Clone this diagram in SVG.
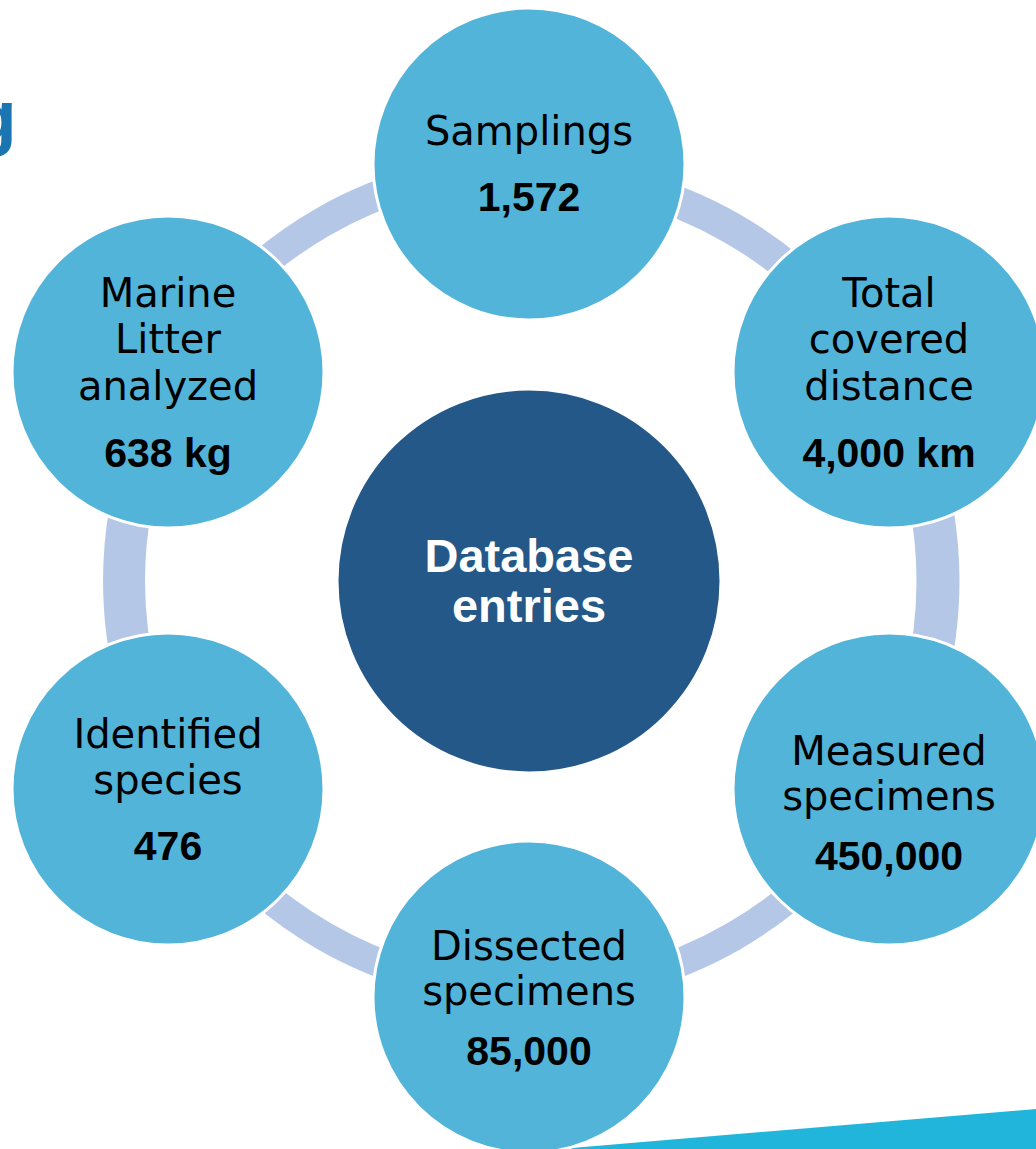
<svg xmlns="http://www.w3.org/2000/svg" width="1036" height="1149" viewBox="0 0 1036 1149">
  <style>
    .band { fill: none; stroke: #B4C7E7; }
    .outer { fill: #53B4D9; stroke: #FFFFFF; stroke-width: 3; }
    .core { fill: #245888; stroke: #FFFFFF; stroke-width: 3; }
    .lbl { font-family: "DejaVu Sans", sans-serif; font-size: 40px; fill: #000000; text-anchor: middle; }
    .val { font-family: "Liberation Sans", Arial, sans-serif; font-weight: bold; font-size: 41px; fill: #000000; text-anchor: middle; }
    .ctr { font-family: "Liberation Sans", Arial, sans-serif; font-weight: bold; font-size: 47px; fill: #FFFFFF; text-anchor: middle; }
  </style>
  <rect x="0" y="0" width="1036" height="1149" fill="#FFFFFF"/>
  <text x="-29" y="142" font-family="Liberation Sans, Arial, sans-serif" font-weight="bold" font-size="75" fill="#1B75B0">g</text>
  <polygon points="560,1149 1036,1109 1036,1149" fill="#22B5DC"/>

  <g id="connectors">
    <path class="band" stroke-width="32" d="M 529 174 A 407 407 0 0 1 881.5 377.5"/>
    <path class="band" stroke-width="43" d="M 883.2 376.5 A 409 409 0 0 1 883.2 785.5"/>
    <path class="band" stroke-width="29" d="M 884.1 786 A 410 410 0 0 1 529 991"/>
    <path class="band" stroke-width="29" d="M 529 991 A 410 410 0 0 1 173.9 786"/>
    <path class="band" stroke-width="42" d="M 178.3 783.5 A 405 405 0 0 1 178.3 378.5"/>
    <path class="band" stroke-width="30" d="M 170.5 374 A 414 414 0 0 1 529 167"/>
  </g>

  <g id="node-center">
    <circle class="core" cx="529" cy="581" r="192"/>
    <text class="ctr" x="529" y="572">Database</text>
    <text class="ctr" x="529" y="622">entries</text>
  </g>

  <g id="node-samplings">
    <circle class="outer" cx="529" cy="164" r="156"/>
    <text class="lbl" x="529" y="145">Samplings</text>
    <text class="val" x="529" y="211">1,572</text>
  </g>

  <g id="node-distance">
    <circle class="outer" cx="889" cy="372" r="156"/>
    <text class="lbl" x="889" y="307">Total</text>
    <text class="lbl" x="889" y="353">covered</text>
    <text class="lbl" x="889" y="400">distance</text>
    <text class="val" x="889" y="467">4,000 km</text>
  </g>

  <g id="node-measured">
    <circle class="outer" cx="889" cy="789" r="156"/>
    <text class="lbl" x="889" y="765">Measured</text>
    <text class="lbl" x="889" y="810">specimens</text>
    <text class="val" x="889" y="870">450,000</text>
  </g>

  <g id="node-dissected">
    <circle class="outer" cx="529" cy="997" r="156"/>
    <text class="lbl" x="529" y="960">Dissected</text>
    <text class="lbl" x="529" y="1005">specimens</text>
    <text class="val" x="529" y="1065">85,000</text>
  </g>

  <g id="node-species">
    <circle class="outer" cx="168" cy="789" r="156"/>
    <text class="lbl" x="168" y="748">Identified</text>
    <text class="lbl" x="168" y="794">species</text>
    <text class="val" x="168" y="860">476</text>
  </g>

  <g id="node-litter">
    <circle class="outer" cx="168" cy="372" r="156"/>
    <text class="lbl" x="168" y="307">Marine</text>
    <text class="lbl" x="168" y="353">Litter</text>
    <text class="lbl" x="168" y="400">analyzed</text>
    <text class="val" x="168" y="467">638 kg</text>
  </g>
</svg>
